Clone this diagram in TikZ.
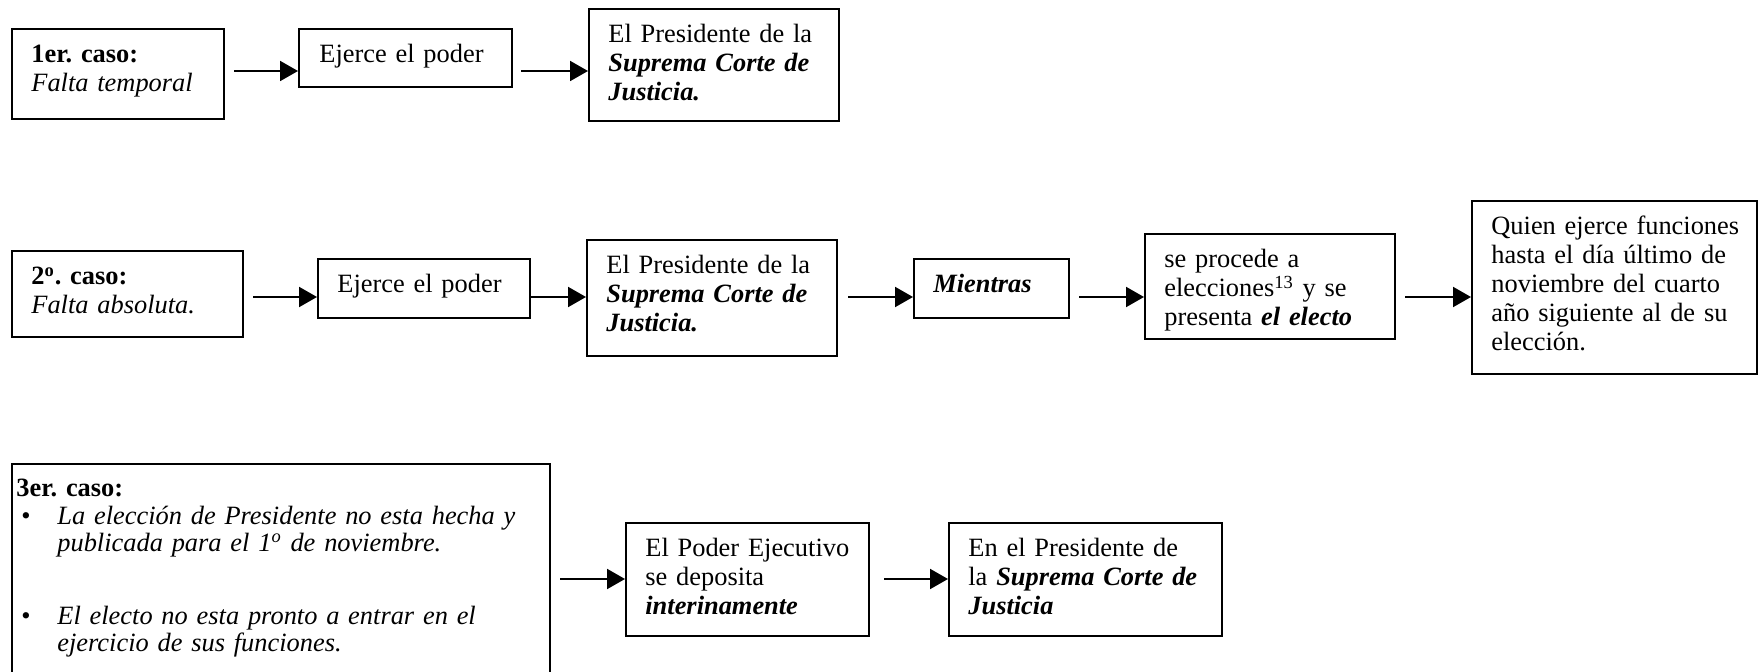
\documentclass[tikz,border=0pt]{standalone}
\usepackage{fontspec}
\setmainfont{Liberation Serif}
\usetikzlibrary{arrows.meta}

\tikzset{
  box/.style={draw, line width=1pt, anchor=north west, inner sep=0pt},
  txt/.style={anchor=base west, inner sep=0pt, align=left, text width=#1,
    font=\fontsize{13.2}{14.4}\selectfont\frenchspacing},
  arr/.style={line width=1pt, -{Triangle[length=9pt,width=10pt]}},
}

\begin{document}
\begin{tikzpicture}[x=0.5pt, y=0.5pt]

    \useasboundingbox (0,0) rectangle (1758,-672);
    \clip (0,0) rectangle (1758,-672);

    \coordinate (r1) at (0,-71);
    \coordinate (r2) at (0,-297);
    \coordinate (r3) at (0,-579);

    % 1er. caso
    \node[box, minimum width=106pt, minimum height=45pt] (caso1) at (11,-28) {};
    \node[box, minimum width=106.5pt, minimum height=29pt] (ejerce1) at (298,-28) {};
    \node[box, minimum width=125pt, minimum height=56pt] (corte1) at (588,-8) {};

    \node[txt=97pt] (caso1t) at ([shift={(20,-35)}]caso1.north west)
      {\textbf{1er. caso:}\\\textit{Falta temporal}};
    \node[txt=99pt] (ejerce1t) at ([shift={(21,-35)}]ejerce1.north west) {Ejerce el poder};
    \node[txt=117pt] (corte1t) at ([shift={(20,-35)}]corte1.north west)
      {El Presidente de la\\\textbf{\textit{Suprema Corte de}}\\\textbf{\textit{Justicia.}}};

    % 2o. caso
    \node[box, minimum width=115.5pt, minimum height=43pt] (caso2) at (11,-250) {};
    \node[box, minimum width=106pt, minimum height=29.5pt] (ejerce2) at (317,-258) {};
    \node[box, minimum width=125pt, minimum height=58pt] (corte2) at (586,-239) {};
    \node[box, minimum width=77.5pt, minimum height=29.5pt] (mientras) at (913,-258) {};
    \node[box, minimum width=125pt, minimum height=52.5pt] (elecciones) at (1144,-233) {};
    \node[box, minimum width=142.5pt, minimum height=86.5pt] (quien) at (1471,-200) {};

    \node[txt=107pt] (caso2t) at ([shift={(20,-35)}]caso2.north west)
      {\textbf{2\textsuperscript{o}. caso:}\\\textit{Falta absoluta.}};
    \node[txt=98pt] (ejerce2t) at ([shift={(20,-35)}]ejerce2.north west) {Ejerce el poder};
    \node[txt=117pt] (corte2t) at ([shift={(20,-35)}]corte2.north west)
      {El Presidente de la\\\textbf{\textit{Suprema Corte de}}\\\textbf{\textit{Justicia.}}};
    \node[txt=69pt] (mientrast) at ([shift={(20,-35)}]mientras.north west) {\textbf{\textit{Mientras}}};
    \node[txt=117pt] (eleccionest) at ([shift={(20,-35)}]elecciones.north west)
      {se procede a\\elecciones\textsuperscript{13} y se\\presenta \textbf{\textit{el electo}}};
    \node[txt=132pt] (quient) at ([shift={(20,-35)}]quien.north west)
      {Quien ejerce funciones\\hasta el día último de\\noviembre del cuarto\\año siguiente al de su\\elección.};

    % 3er. caso
    \node[box, minimum width=269pt, minimum height=130pt] (caso3) at (11,-463) {};
    \node[box, minimum width=121.5pt, minimum height=56.5pt] (ejecutivo) at (625,-522) {};
    \node[box, minimum width=136.5pt, minimum height=56.5pt] (corte3) at (948,-522) {};

    \node[txt=262pt] (caso3t) at ([shift={(5,-34)}]caso3.north west)
      {\textbf{3er. caso:}\\[-0.4pt]
       \hspace*{2.5pt}\makebox[18pt][l]{\textbullet}\textit{La elección de Presidente no esta hecha y}\\[-1.2pt]
       \hspace*{20.5pt}\textit{publicada para el 1\textsuperscript{o} de noviembre.}\\[22.3pt]
       \hspace*{2.5pt}\makebox[18pt][l]{\textbullet}\textit{El electo no esta pronto a entrar en el}\\[-1.2pt]
       \hspace*{20.5pt}\textit{ejercicio de sus funciones.}};
    \node[txt=113pt] (ejecutivot) at ([shift={(20,-35)}]ejecutivo.north west)
      {El Poder Ejecutivo\\se deposita\\\textbf{\textit{interinamente}}};
    \node[txt=128pt] (corte3t) at ([shift={(20,-35)}]corte3.north west)
      {En el Presidente de\\la \textbf{\textit{Suprema Corte de}}\\\textbf{\textit{Justicia}}};

    \foreach \a/\b/\r/\g in {caso1/ejerce1/r1/4.5, ejerce1/corte1/r1/4,
        caso2/ejerce2/r2/4.5, ejerce2/corte2/r2/0, corte2/mientras/r2/5,
        mientras/elecciones/r2/4.5, elecciones/quien/r2/4.5,
        caso3/ejecutivo/r3/4.5, ejecutivo/corte3/r3/7}
    \draw[arr, shorten <=\g pt] (\a.east |- \r) -- (\b.west |- \r);

\end{tikzpicture}
\end{document}
